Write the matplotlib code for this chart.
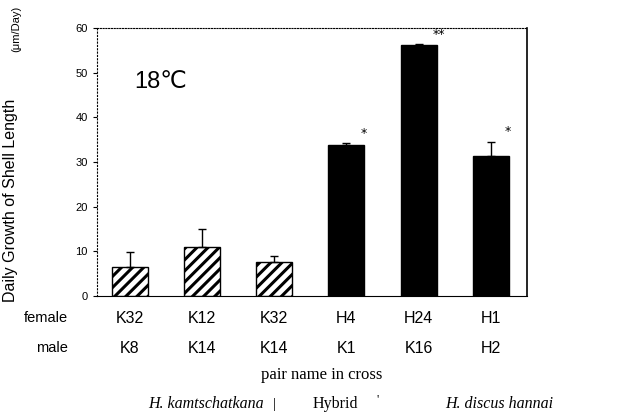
import matplotlib
matplotlib.use("Agg")
import matplotlib.pyplot as plt

female = ["K32", "K12", "K32", "H4", "H24", "H1"]
male = ["K8", "K14", "K14", "K1", "K16", "H2"]
growth = [6.5, 11.0, 7.6, 33.8, 56.1, 31.3]
err_up = [3.3, 4.0, 1.4, 0.4, 0.3, 3.2]
hatched = [True, True, True, False, False, False]
stars = ["", "", "", "*", "**", "*"]
yticks = [0, 10, 20, 30, 40, 50, 60]

plt.rcParams['hatch.linewidth'] = 2.2
sans = ["Liberation Sans", "DejaVu Sans", "Noto Sans CJK JP"]
serif = ["Liberation Serif", "DejaVu Serif"]

fig = plt.figure(figsize=(6.37, 4.16), dpi=100)
ax = fig.add_axes([0.152, 0.2885, 0.675, 0.644])

x = list(range(len(growth)))
for i, v in enumerate(growth):
    if hatched[i]:
        ax.bar(i, v, width=0.5, color="white", edgecolor="black", hatch="///", linewidth=1)
    else:
        ax.bar(i, v, width=0.5, color="black", edgecolor="black", linewidth=1)
ax.errorbar(x, growth, yerr=[[0] * len(growth), err_up], fmt="none", ecolor="black",
            elinewidth=1, capsize=3, capthick=1)

# significance marks
for i, s in enumerate(stars):
    if s:
        ax.text(i + 0.2, growth[i] + err_up[i] + 0.8, s, ha="left", va="bottom", fontsize=9)

ax.set_xlim(-0.46, 5.5)
ax.set_ylim(0, 60)
ax.set_yticks(yticks)
ax.set_yticklabels([str(t) for t in yticks], fontsize=8, family=sans)
ax.set_xticks([])
ax.tick_params(axis="y", length=3, width=0.8, direction="out")

ax.spines["left"].set_linestyle((0, (1, 2)))
ax.spines["top"].set_linestyle((0, (1, 1.5)))
ax.spines["bottom"].set_linestyle((0, (1, 1)))
ax.spines["top"].set_linewidth(0.8)
ax.spines["bottom"].set_linewidth(0.8)
ax.spines["right"].set_linewidth(1.2)

ax.text(0.088, 0.80, "18℃", transform=ax.transAxes, fontsize=17, family=sans,
        ha="left", va="center")

# labels under the bars
ax.text(-0.86, -5, "female", ha="right", va="center", fontsize=10.5, family=sans)
ax.text(-0.86, -11.7, "male", ha="right", va="center", fontsize=10.5, family=sans)
for i in x:
    ax.text(i, -5, female[i], ha="center", va="center", fontsize=11.5, family=sans)
    ax.text(i, -11.7, male[i], ha="center", va="center", fontsize=11.5, family=sans)
ax.text(2.65, -17.7, "pair name in cross", ha="center", va="center", fontsize=12,
        family=serif)
ax.text(1.05, -24.2, "H. kamtschatkana", ha="center", va="center", fontsize=11.5,
        family=serif, style="italic")
ax.text(2.0, -24.2, "|", ha="center", va="center", fontsize=11, family=serif)
ax.text(2.85, -24.2, "Hybrid", ha="center", va="center", fontsize=11.5, family=serif)
ax.text(3.43, -23.2, "'", ha="center", va="center", fontsize=9, family=serif)
ax.text(5.12, -24.2, "H. discus hannai", ha="center", va="center", fontsize=11.5,
        family=serif, style="italic")

fig.text(0.016, 0.275, "Daily Growth of Shell Length", rotation=90, ha="center", va="bottom",
         fontsize=11.5, family=sans)
fig.text(0.026, 0.985, "(μm/Day)", rotation=90, ha="center", va="top",
         fontsize=8, family=sans)

fig.savefig("out.png", dpi=100)
